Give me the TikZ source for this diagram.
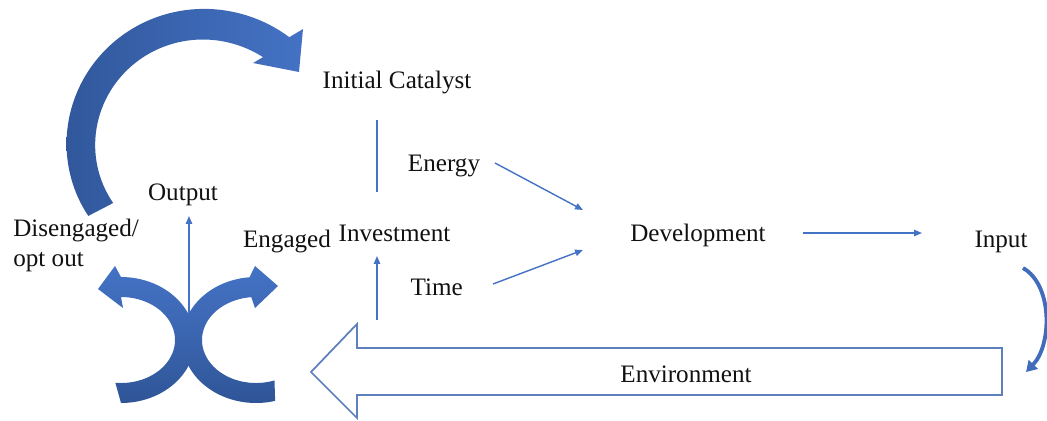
\documentclass[tikz,border=0pt]{standalone}
\usepackage{fontspec}
\setmainfont{Liberation Serif}
\usetikzlibrary{arrows.meta}
\definecolor{accent}{HTML}{4472C4}
\definecolor{accentdark}{HTML}{2F5597}
\definecolor{outlineblue}{HTML}{5E80BC}
\definecolor{inkblack}{HTML}{111111}

\begin{document}
\begin{tikzpicture}[x=0.02cm,y=-0.02cm,
  lbl/.style={font=\fontsize{14.3}{17}\selectfont, inner sep=0pt, text=inkblack, anchor=base},
  thinline/.style={draw=accent, line width=0.8pt},
  thinarrow/.style={thinline, -{Triangle[length=4.5pt,width=3.6pt]}},
  bigshade/.style={left color=accentdark!90!accent, right color=accent},
  xshade/.style={top color=accent, bottom color=accentdark, middle color=accent!55!accentdark},
]
\useasboundingbox (0,0) rectangle (1047,420);

% labels
\node[lbl] (cat)     at (397,88)    {Initial Catalyst};
\node[lbl] (energy)  at (444,171.5) {Energy};
\node[lbl] (invest)  at (394.5,241.5) {Investment};
\node[lbl] (engaged) at (287,247)   {Engaged};
\node[lbl] (time)    at (436.7,295) {Time};
\node[lbl] (dev)     at (698,241.5) {Development};
\node[lbl] (input)   at (1001,247)  {Input};
\node[lbl] (output)  at (183,200.5) {Output};
\node[lbl, anchor=base west] (dis1) at (13,236.5) {Disengaged/};
\node[lbl, anchor=base west] (dis2) at (13,266.5) {opt out};

% end points of the thin connectors
\coordinate (catlow)  at (377,120);
\coordinate (invhigh) at (377,192);
\coordinate (invlow)  at (377,320);
\coordinate (invbase) at (377,256);
\coordinate (enA) at (495,163);
\coordinate (enB) at (583,210);
\coordinate (tiA) at (493,284);
\coordinate (tiB) at (583,250);
\coordinate (devA) at (803,233);
\coordinate (devB) at (922,233);
\coordinate (outA) at (189,330);
\coordinate (outB) at (189,216);

\draw[thinline]  (catlow) -- (invhigh);
\draw[thinarrow] (invlow) -- (invbase);
\draw[thinarrow] (enA) -- (enB);
\draw[thinarrow] (tiA) -- (tiB);
\draw[thinarrow] (devA) -- (devB);
\draw[thinarrow] (outA) -- (outB);

% large feedback arrow sweeping over the top
\shade[bigshade]
  plot[domain=149:309, samples=70]
    ({198+(128+0.1073*(\x-149))*cos(\x)}, {150+(128+0.1073*(\x-149))*sin(\x)})
  -- (303,29) -- (299,72) -- (253,63)
  -- plot[domain=305:148, samples=70]
    ({198+(100+0.0852*(\x-148))*cos(\x)}, {150+(100+0.0852*(\x-148))*sin(\x)})
  -- cycle;

% crossing arrows: disengaged (left) and engaged (right)
\shade[xshade]
  plot[domain=90:-90, samples=60] ({121+74*cos(\x)}, {340+63*sin(\x)})
  -- (115,266) -- (98,289) -- (123,308)
  -- plot[domain=-90:96, samples=60] ({121+54*cos(\x)}, {340+43*sin(\x)})
  -- cycle;
\shade[xshade]
  plot[domain=75:265, samples=60] ({256+74*cos(\x)}, {340+63*sin(\x)})
  -- (255,266) -- (278,286) -- (255,308)
  -- plot[domain=265:70, samples=60] ({256+54*cos(\x)}, {340+43*sin(\x)})
  -- cycle;

% environment block arrow
\draw[outlineblue, line width=1pt, line join=miter]
  (1002,348) -- (357,348) -- (357,324) -- (311,372) -- (357,418)
  -- (357,395) -- (1002,395) -- cycle;
\node[lbl] (env) at (686,382) {Environment};

% small return arrow from the input
\coordinate (inA) at (1023,268);
\coordinate (inB) at (1026,372);
\draw[accent!80!accentdark, line width=2.2pt, -{Triangle[length=6pt,width=7pt]}]
  (inA) .. controls (1053,285) and (1052,345) .. (inB);
\end{tikzpicture}
\end{document}
